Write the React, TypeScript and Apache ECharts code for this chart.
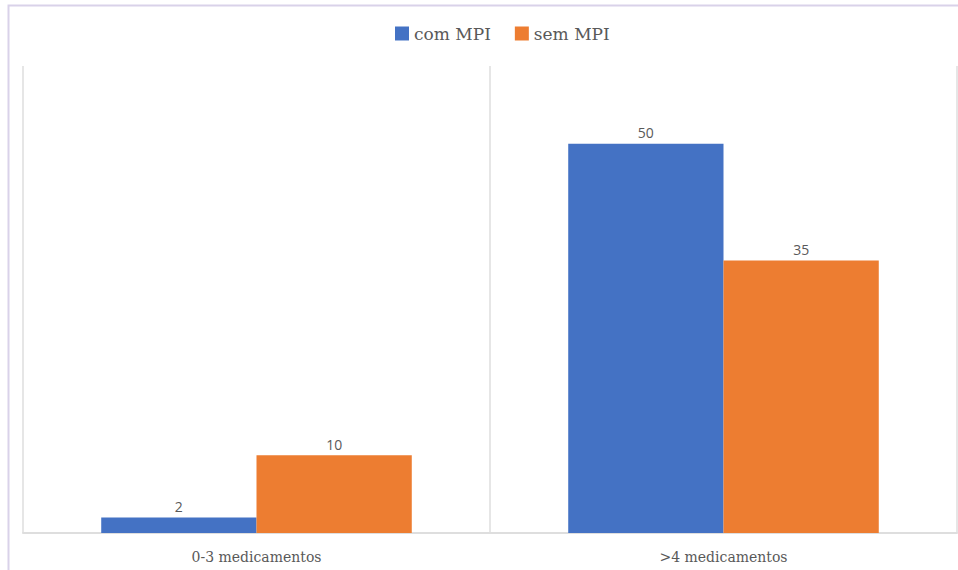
import React, { useEffect, useRef } from "react";
import * as echarts from "echarts";

const categories = ["0-3 medicamentos", ">4 medicamentos"];
const comMPI = [2, 50];
const semMPI = [10, 35];
const seriesNames = ["com MPI", "sem MPI"];

export default function App() {
  const ref = useRef<HTMLDivElement>(null);
  useEffect(() => {
    if (!ref.current) return;
    const chart = echarts.init(ref.current, null, { renderer: "svg" });
    const labelStyle = {
      show: true,
      position: "top",
      distance: 4,
      color: "#595959",
      fontSize: 14,
      fontFamily: "'Open Sans', 'Noto Sans', sans-serif",
    };
    chart.setOption({
      animation: false,
      backgroundColor: "#ffffff",
      graphic: [
        {
          type: "rect",
          shape: { x: 8.5, y: 5.5, width: 1000, height: 700 },
          style: { fill: "none", stroke: "#d9d2e9", lineWidth: 2 },
          silent: true,
        },
      ],
      legend: {
        left: 390,
        top: 20,
        itemWidth: 14,
        itemHeight: 14,
        itemGap: 24,
        icon: "rect",
        textStyle: {
          color: "#595959",
          fontSize: 17,
          fontFamily: "'DejaVu Serif', 'Liberation Serif', serif",
        },
        data: seriesNames,
      },
      grid: { left: 23, top: 66, right: 1, bottom: 37, containLabel: false },
      xAxis: {
        type: "category",
        data: categories,
        axisLine: { show: true, lineStyle: { color: "#dedede", width: 2 } },
        axisTick: { show: false },
        splitLine: { show: true, lineStyle: { color: "#e6e6e6", width: 2 } },
        axisLabel: {
          color: "#595959",
          fontSize: 14,
          margin: 17,
          fontFamily: "'DejaVu Serif', 'Liberation Serif', serif",
        },
      },
      yAxis: {
        type: "value",
        min: 0,
        max: 60,
        interval: 10,
        show: false,
        splitLine: { show: false },
      },
      series: [
        {
          name: seriesNames[0],
          type: "bar",
          data: comMPI,
          barGap: "0%",
          barCategoryGap: "33.5%",
          itemStyle: { color: "#4472C4" },
          label: labelStyle,
        },
        {
          name: seriesNames[1],
          type: "bar",
          data: semMPI,
          barGap: "0%",
          barCategoryGap: "33.5%",
          itemStyle: { color: "#ED7D31" },
          label: labelStyle,
        },
      ],
    });
    return () => chart.dispose();
  }, []);
  return (
    <div
      ref={ref}
      style={{ position: "fixed", left: 0, top: 0, width: 958, height: 570 }}
    />
  );
}
